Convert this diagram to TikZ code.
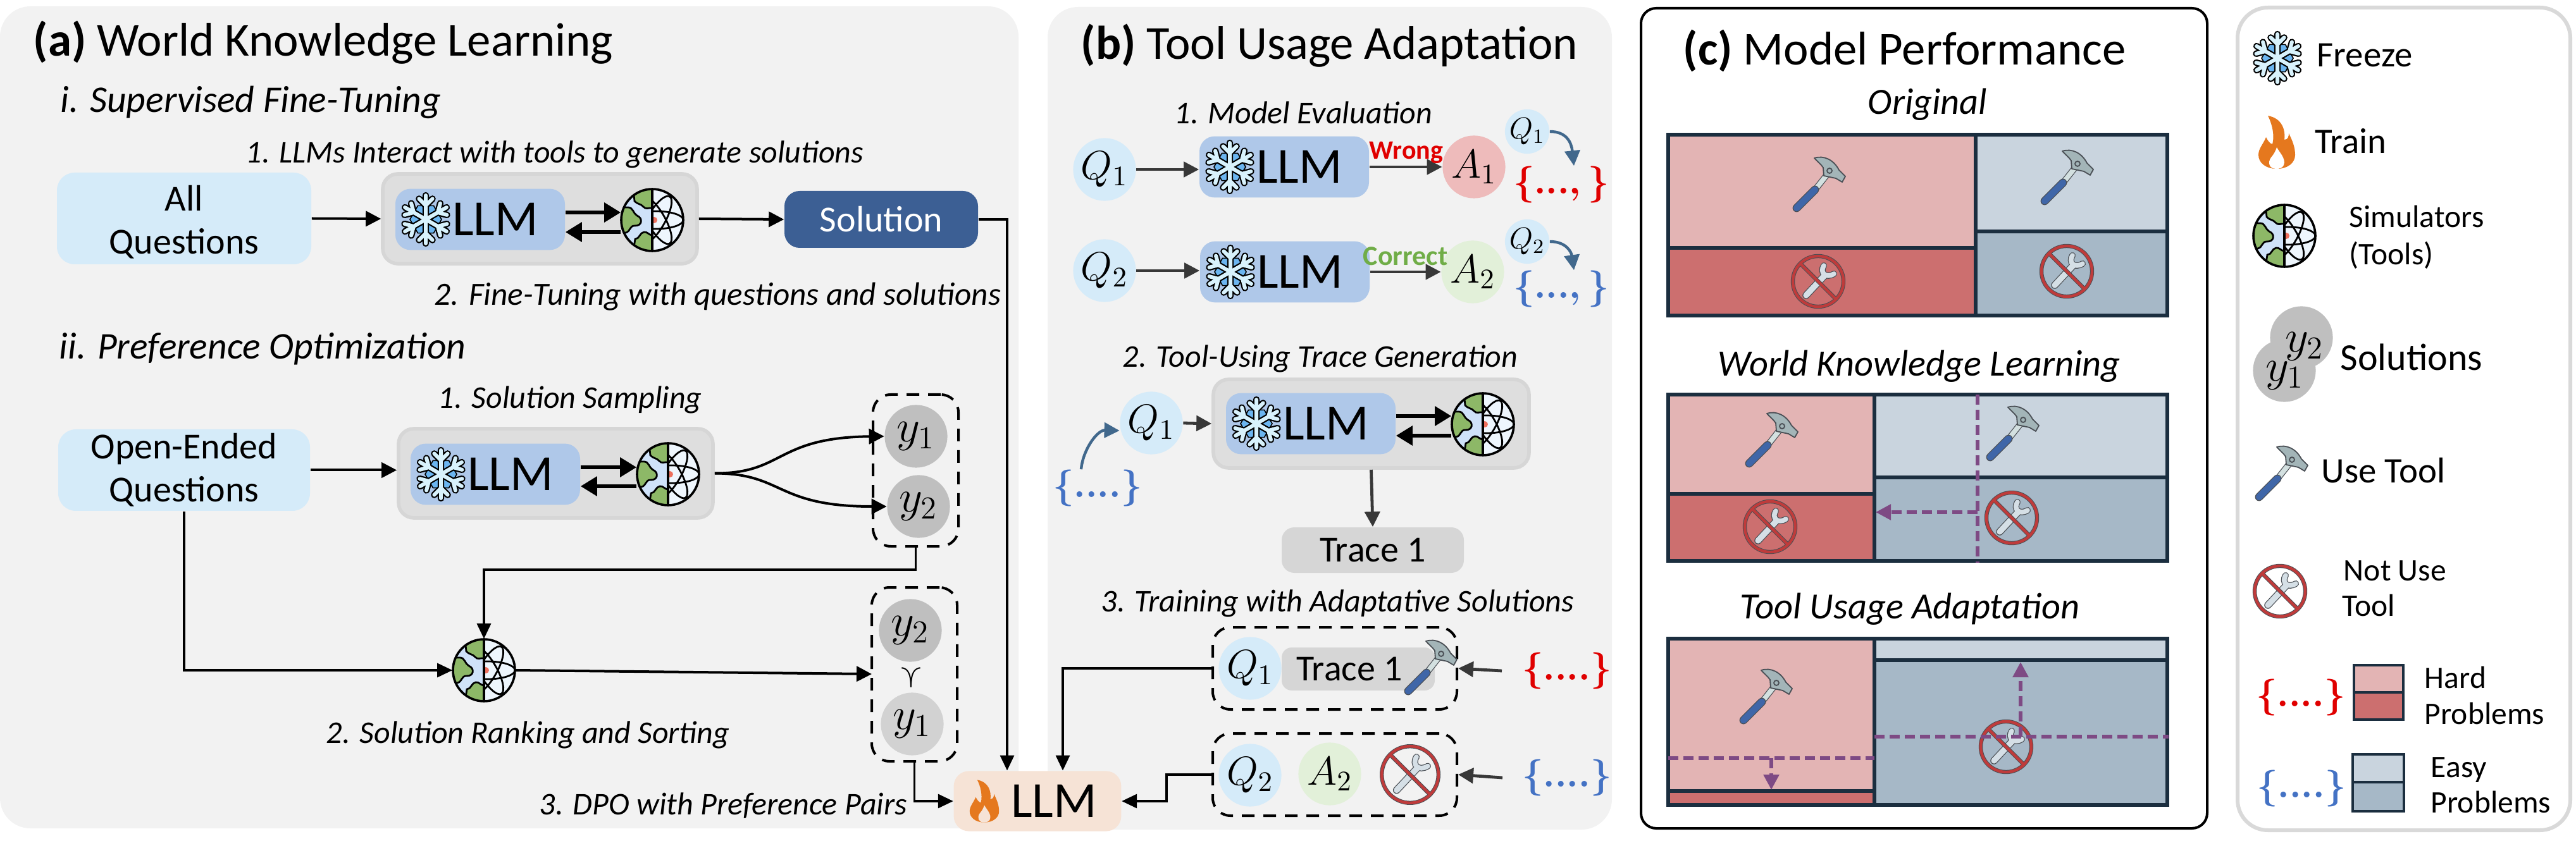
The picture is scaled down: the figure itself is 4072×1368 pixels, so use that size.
\documentclass[tikz,border=0pt]{standalone}
\usepackage{fix-cm}
\usepackage{fontspec}
\setmainfont{Carlito}
\usetikzlibrary{arrows.meta,positioning,fit,calc}

\definecolor{panelgray}{HTML}{F2F2F2}
\definecolor{questionblue}{HTML}{D5EBF9}
\definecolor{llmblue}{HTML}{AFC8E9}
\definecolor{toolgray}{HTML}{DEDEDE}
\definecolor{toolrim}{HTML}{D6D6D6}
\definecolor{solnavy}{HTML}{3C5F94}
\definecolor{soldark}{HTML}{BFBFBF}
\definecolor{sollight}{HTML}{D2D2D2}
\definecolor{trainpeach}{HTML}{F6E3D6}
\definecolor{flameorange}{HTML}{E5781E}
\definecolor{wrongred}{HTML}{E00000}
\definecolor{wrongfill}{HTML}{EEBBBB}
\definecolor{rightgreen}{HTML}{70AD47}
\definecolor{rightfill}{HTML}{E2F0D9}
\definecolor{easyblue}{HTML}{4472C4}
\definecolor{curveblue}{HTML}{41688C}
\definecolor{hardtop}{HTML}{E3B4B4}
\definecolor{hardlow}{HTML}{CC6F6F}
\definecolor{easytop}{HTML}{C9D4DE}
\definecolor{easylow}{HTML}{A6B8C7}
\definecolor{gridink}{HTML}{1B2E3F}
\definecolor{shiftpurple}{HTML}{7E4A84}
\definecolor{legendrim}{HTML}{D9D9D9}
\definecolor{gripblue}{HTML}{3F66A8}
\definecolor{shaftpale}{HTML}{D3E0E0}
\definecolor{headgray}{HTML}{A3B5B8}
\definecolor{inkgray}{HTML}{4A4F55}
\definecolor{ringred}{HTML}{BF3B3B}
\definecolor{wrenchpale}{HTML}{D5DFE6}
\definecolor{flakepale}{HTML}{D8F2FC}
\definecolor{flakeblue}{HTML}{6BB5F0}
\definecolor{globegreen}{HTML}{8DB867}
\definecolor{globesea}{HTML}{CFE2F9}
\definecolor{globelight}{HTML}{EEF6FD}

\tikzset{
  flake/.pic={
    \draw[fill=flakeblue, draw=black, line width=.4pt]
      (0:25) -- (60:25) -- (120:25) -- (180:25) -- (240:25) -- (300:25) -- cycle;
    \foreach \ang in {30,90,...,330} {
      \draw[black, line width=2.6pt, line cap=round] (0,0) -- (\ang:38)
        (\ang:22) -- +(\ang+45:15) (\ang:22) -- +(\ang-45:15);
    }
    \foreach \ang in {30,90,...,330} {
      \draw[flakepale, line width=1.5pt, line cap=round] (0,0) -- (\ang:38)
        (\ang:22) -- +(\ang+45:15) (\ang:22) -- +(\ang-45:15);
    }
  },
  globe/.pic={
    \begin{scope}
      \clip (0,0) circle (49);
      \fill[globesea] (-49,-49) rectangle (0,49);
      \fill[globelight] (0,-49) rectangle (49,49);
      \draw[fill=globegreen, line width=.7pt]
        (-30,-50) -- (-28,-30) .. controls (-22,-24) and (-18,-26) .. (-14,-21)
        .. controls (-10,-16) and (-5,-20) .. (0,-19) -- (0,-50) -- cycle;
      \draw[fill=globegreen, line width=.7pt]
        (-50,-20) -- (-38,-20) .. controls (-30,-20) and (-30,-10) .. (-24,-7)
        .. controls (-14,-3) and (-16,10) .. (-28,9)
        .. controls (-36,9) and (-34,18) .. (-42,20) -- (-50,20) -- cycle;
      \draw[fill=globegreen, line width=.7pt]
        (-30,50) -- (-27,30) .. controls (-20,30) and (-20,20) .. (-13,19)
        .. controls (-8,18) and (-5,24) .. (0,24) -- (0,50) -- cycle;
      \clip (0,-50) rectangle (50,50);
      \foreach \ang in {0,60,120} {
        \draw[line width=.7pt, rotate around={\ang:(6,0)}] (6,0) ellipse (43 and 14);
      }
      \fill[red!60!brown!70] (3,0) circle (5);
    \end{scope}
    \draw[line width=.9pt] (0,0) circle (49) (0,-49) -- (0,49);
  },
  hammer/.pic={
    \draw[inkgray, line width=2.5pt] (-5,8) -- (14,-16);
    \draw[shaftpale, line width=1.9pt] (-5,8) -- (14,-16);
    \draw[inkgray, line width=3.2pt, line cap=round] (-35,38) -- (-6,9);
    \draw[gripblue, line width=2.6pt, line cap=round] (-35,38) -- (-6,9);
    \draw[fill=headgray, draw=inkgray, line width=.45pt, line join=round]
      (-7,-41) .. controls (8,-46) and (24,-38) .. (32,-22) -- (42,-12) -- (37,-3)
      -- (27,-9) -- (8,-13) -- (7,-26) .. controls (3,-32) and (-3,-36) .. cycle;
    \draw[draw=inkgray, line width=.45pt] (17,-21) circle (4);
  },
  nowrench/.pic={
    \draw[inkgray, line width=2.9pt, line cap=round] (-19,22) -- (10,-9);
    \draw[inkgray, line width=2.5pt, line cap=round]
      (9,-25) .. controls (2,-14) and (12,-4) .. (25,-12);
    \draw[wrenchpale, line width=2.3pt, line cap=round] (-19,22) -- (10,-9);
    \draw[wrenchpale, line width=1.9pt, line cap=round]
      (9,-25) .. controls (2,-14) and (12,-4) .. (25,-12);
    \draw[inkgray, line width=1.6pt] (0,0) circle (40) (-28,-28) -- (28,28);
    \draw[ringred, line width=1.1pt] (0,0) circle (40) (-28,-28) -- (28,28);
  },
  flame/.pic={
    \fill[flameorange] (0,42) .. controls (-18,42) and (-29,32) .. (-29,20)
      .. controls (-29,10) and (-22,4) .. (-17,-8) .. controls (-14,-2) and (-11,2) .. (-7,3)
      .. controls (-3,-12) and (-8,-30) .. (-14,-42) .. controls (8,-38) and (14,-20) .. (12,-4)
      .. controls (18,-4) and (19,-10) .. (19,-14) .. controls (25,-2) and (29,8) .. (29,20)
      .. controls (29,32) and (18,42) .. (0,42) -- cycle;
    \fill[#1] (-1,42) .. controls (-12,42) and (-15,32) .. (-9,24)
      .. controls (-4,18) and (-2,14) .. (0,8) .. controls (4,16) and (15,26) .. (11,36)
      .. controls (9,41) and (4,42) .. (-1,42) -- cycle;
  }
}

\newcommand{\frozenllm}[3]{
  \node[llmbox] (#1) at (#2,#3) {\hspace{12pt}LLM};
  \pic at ($(#1.center)+(-86,0)$) {flake};
}
\newcommand{\simulator}[3]{
  \node[simdot] (#1) at (#2,#3) {};
  \pic at (#1) {globe};
}
\newcommand{\perfgrid}[5]{
  \fill[hardtop] (2637,#1) rectangle (#3,#4);
  \fill[hardlow] (2637,#4) rectangle (#3,#2);
  \fill[easytop] (#3,#1) rectangle (3426,#5);
  \fill[easylow] (#3,#5) rectangle (3426,#2);
  \draw[gridline] (2637,#1) rectangle (3426,#2) (#3,#1) -- (#3,#2)
    (2637,#4) -- (#3,#4) (#3,#5) -- (3426,#5);
}
\newcommand{\legswatch}[7]{
  \fill[#6] (#1,#3) rectangle (#2,#4);
  \fill[#7] (#1,#4) rectangle (#2,#5);
  \draw[gridline, line width=1pt] (#1,#3) rectangle (#2,#5) (#1,#4) -- (#2,#4);
}
\newcommand{\fourdots}{$\{....\}$}
\newcommand{\opendots}{$\{...,\}$}

\begin{document}
\begin{tikzpicture}[
  x=0.25pt, y=-0.25pt,
  panel/.style={rounded corners=12pt, fill=panelgray, inner sep=0pt},
  hdr/.style={font=\fontsize{18.7}{18.7}\selectfont, anchor=base west, inner sep=0pt},
  sub/.style={font=\fontsize{14.9}{14.9}\selectfont\itshape, anchor=base west, inner sep=0pt},
  chart/.style={font=\fontsize{14.6}{14.6}\selectfont\itshape, anchor=base west, inner sep=0pt},
  stp/.style={font=\fontsize{12.5}{12.5}\selectfont\itshape, anchor=base west, inner sep=0pt},
  leg/.style={font=\fontsize{14.2}{14.2}\selectfont, inner sep=0pt, anchor=base west},
  legsmall/.style={font=\fontsize{12.4}{12.4}\selectfont, inner sep=0pt, anchor=base west},
  qbox/.style={rounded corners=7pt, fill=questionblue, inner sep=0pt},
  qtext/.style={font=\fontsize{14.5}{17}\selectfont, align=center, inner sep=0pt},
  toolbox/.style={rounded corners=6pt, fill=toolgray, draw=toolrim, line width=1.4pt, inner sep=0pt},
  llmbox/.style={rounded corners=6pt, fill=llmblue, minimum width=67pt, minimum height=24.2pt,
                 inner sep=0pt, font=\fontsize{20}{20}\selectfont},
  simdot/.style={circle, minimum size=24.5pt, inner sep=0pt},
  bub/.style={circle, minimum size=24.8pt, inner sep=0pt, font=\fontsize{16}{16}\selectfont},
  qbub/.style={bub, fill=questionblue},
  smallq/.style={circle, minimum size=17.5pt, inner sep=0pt, fill=questionblue,
                 font=\fontsize{12}{12}\selectfont},
  soldot/.style={bub, fill=soldark, font=\fontsize{18}{18}\selectfont},
  tracebox/.style={rounded corners=4pt, fill=toolrim, inner sep=0pt, font=\fontsize{14.5}{14.5}\selectfont},
  dbox/.style={draw=black, line width=1pt, dash pattern=on 5pt off 3.5pt, rounded corners=7pt, inner sep=0pt},
  bracehard/.style={text=wrongred, inner sep=0pt, font=\fontsize{14.5}{14.5}\selectfont\boldmath},
  braceeasy/.style={text=easyblue, inner sep=0pt, font=\fontsize{14.5}{14.5}\selectfont\boldmath},
  arr/.style={-{Triangle[length=6pt, width=6pt]}, line width=1pt, draw=black},
  thin arr/.style={-{Triangle[length=6pt, width=5.5pt]}, line width=.8pt, draw=black},
  thick arr/.style={-{Triangle[length=6.5pt, width=7.5pt]}, line width=1.5pt, draw=black},
  gray arr/.style={-{Triangle[length=6pt, width=6pt]}, line width=1.2pt, draw=black!78},
  blue arr/.style={-{Triangle[length=6pt, width=6pt]}, line width=1.1pt, draw=curveblue},
  gridline/.style={draw=gridink, line width=1.5pt},
  purpledash/.style={draw=shiftpurple, line width=1.4pt, dash pattern=on 4pt off 2pt},
  purple arr/.style={purpledash, -{Triangle[length=6pt, width=6pt, fill=shiftpurple]}}
]
\useasboundingbox (0,0) rectangle (4072,1368);

% ---------------- panels ----------------
\node[panel, fit={(0,10)(1610,1310)}] (panelA) {};
\node[panel, fit={(1656,11)(2548,1312)}] (panelB) {};
\node[draw=black, line width=1pt, rounded corners=6pt, inner sep=0pt, fit={(2594,13)(3489,1310)}] (panelC) {};
\node[draw=legendrim, line width=1.5pt, rounded corners=12pt, inner sep=0pt, fit={(3537,12)(4063,1313)}] (panelL) {};

% ---------------- (a) world knowledge ----------------
\node[hdr] (titleA) at (52,89) {\textbf{(a)} World Knowledge Learning};
\node[sub] (subOne) at (95,178) {i. Supervised Fine-Tuning};
\node[stp] (stepOne) at (388,258) {1. LLMs Interact with tools to generate solutions};

\node[qbox, fit={(90,273)(492,418)}] (allq) {};
\node[qtext] (allqText) at ([yshift=-1.5pt]allq) {All\\Questions};
\node[toolbox, fit={(605,275)(1102,417)}] (grpA) {};
\frozenllm{llmA}{759}{347}
\simulator{simA}{1031}{348}
\draw[thick arr] ([yshift=2.75pt]llmA.east) -- ([yshift=2.75pt]llmA.east -| simA.west);
\draw[thick arr] ([yshift=-4.75pt]simA.west) -- ([yshift=-4.75pt]simA.west -| llmA.east);
\node[fill=solnavy, rounded corners=6pt, minimum width=76.5pt, minimum height=22.5pt, inner sep=0pt,
      text=white, font=\fontsize{14.5}{14.5}\selectfont] (soln) at (1393,347) {Solution};
\draw[arr] (allq.east) -- (grpA.west);
\draw[arr] (grpA.east) -- (soln.west);
\node[stp, font=\fontsize{12.8}{12.8}\selectfont\itshape] (stepTwo) at (686,483) {2. Fine-Tuning with questions and solutions};

\node[sub] (subTwo) at (93,568) {ii. Preference Optimization};
\node[stp] (stepSample) at (692,646) {1. Solution Sampling};
\node[qbox, fit={(92,679)(490,808)}] (openq) {};
\node[qtext] (openqText) at (openq) {Open-Ended\\Questions};
\node[toolbox, fit={(630,678)(1127,819)}] (grpB) {};
\frozenllm{llmB}{783}{750}
\simulator{simB}{1056}{750}
\draw[thick arr] ([yshift=2.75pt]llmB.east) -- ([yshift=2.75pt]llmB.east -| simB.west);
\draw[thick arr] ([yshift=-4.75pt]simB.west) -- ([yshift=-4.75pt]simB.west -| llmB.east);
\draw[arr] (openq.east) -- (openq.east -| grpB.west);

\node[soldot] (yOne) at (1448,690) {$y_1$};
\node[soldot] (yTwo) at (1452,801) {$y_2$};
\node[dbox, fit={(1380,624)(1515,864)}] (pairA) {};
\draw[arr] (grpB.east) .. controls (1240,749) and (1225,692) .. (yOne.west);
\draw[arr] (grpB.east) .. controls (1240,749) and (1225,801) .. (yTwo.west);

\simulator{simC}{765}{1060}
\draw[thin arr] (pairA.south) |- (1100,901) -| (simC.north);
\draw[thin arr] (openq.south) |- (simC.west);

\node[soldot] (yTop) at (1439,997) {$y_2$};
\node[soldot, fill=sollight] (yLow) at (1442,1145) {$y_1$};
\node[rotate=-90, inner sep=0pt, font=\fontsize{13}{13}\selectfont] (prefOp) at (1440,1072) {$\succ$};
\node[dbox, fit={(1378,929)(1513,1204)}] (pairB) {};
\draw[arr] (simC.east) -- (1378,1066);
\node[stp] (stepRank) at (515,1175) {2. Solution Ranking and Sorting};
\node[stp] (stepDpo) at (852,1288) {3. DPO with Preference Pairs};

\node[fill=trainpeach, rounded corners=6pt, minimum width=66.2pt, minimum height=23.8pt, inner sep=0pt,
      font=\fontsize{20}{20}\selectfont] (llmT) at (1640,1267) {\hspace{13pt}LLM};
\pic[scale=.8] at ($(llmT.center)+(-84,0)$) {flame=trainpeach};

\draw[thin arr] (soln.east) -| (llmT.north -| 1592,0);
\draw[thin arr] (pairB.south) |- (llmT.west);

% ---------------- (b) tool usage ----------------
\node[hdr] (titleB) at (1708,94) {\textbf{(b)} Tool Usage Adaptation};
\node[stp] (stepEval) at (1856,196) {1. Model Evaluation};

\node[qbub] (qOne) at (1746,268) {$Q_1$};
\frozenllm{llmC}{2030}{264}
\node[bub, fill=wrongfill] (aOne) at (2330,264) {$A_1$};
\node[smallq] (qOneS) at (2414,208) {$Q_1$};
\node[bracehard] (setOne) at (2468,292) {\opendots};
\draw[gray arr] (qOne.east) -- (qOne.east -| llmC.west);
\draw[gray arr] (llmC.east) -- (aOne.west);
\node[anchor=base west, inner sep=0pt, text=wrongred, font=\fontsize{10.5}{10.5}\selectfont\bfseries] (lblWrong) at (2164,252) {Wrong};
\draw[blue arr] (qOneS.east) .. controls (2476,208) and (2484,225) .. ([xshift=5pt]setOne.north);

\node[qbub] (qTwo) at (1746,428) {$Q_2$};
\frozenllm{llmD}{2031}{430}
\node[bub, fill=rightfill] (aTwo) at (2328,430) {$A_2$};
\node[smallq] (qTwoS) at (2414,382) {$Q_2$};
\node[braceeasy] (setTwo) at (2468,457) {\opendots};
\draw[gray arr] (qTwo.east) -- (qTwo.east -| llmD.west);
\draw[gray arr] (llmD.east) -- (aTwo.west);
\node[anchor=base west, inner sep=0pt, text=rightgreen, font=\fontsize{11}{11}\selectfont\bfseries] (lblRight) at (2154,420) {Correct};
\draw[blue arr] (qTwoS.east) .. controls (2476,382) and (2484,399) .. ([xshift=5pt]setTwo.north);

\node[stp] (stepTrace) at (1774,581) {2. Tool-Using Trace Generation};
\node[toolbox, fit={(1918,600)(2417,740)}] (grpC) {};
\frozenllm{llmE}{2072}{670}
\simulator{simD}{2344}{671}
\draw[thick arr] ([yshift=3pt]llmE.east) -- ([yshift=3pt]llmE.east -| simD.west);
\draw[thick arr] ([yshift=-4.5pt]simD.west) -- ([yshift=-4.5pt]simD.west -| llmE.east);
\node[qbub] (qThree) at (1820,669) {$Q_1$};
\node[braceeasy] (setThree) at (1735,772) {\fourdots};
\draw[gray arr] (qThree.east) -- (grpC.west);
\draw[blue arr] ([xshift=-6.5pt]setThree.north) .. controls (1712,710) and (1735,680) .. ([yshift=-3pt]qThree.west);
\node[fill=toolrim, rounded corners=5pt, minimum width=72pt, minimum height=18pt, inner sep=0pt,
      font=\fontsize{14.5}{14.5}\selectfont] (traceA) at (2170,870) {Trace 1};
\draw[gray arr] (grpC.south) -- (traceA.north);

\node[stp] (stepTrain) at (1740,967) {3. Training with Adaptative Solutions};
\node[dbox, fit={(1917,992)(2303,1122)}] (pairC) {};
\node[qbub] (qFour) at (1976,1057) {$Q_1$};
\node[tracebox, minimum width=60.5pt, minimum height=17pt] (traceB) at (2147,1058) {\hspace{-7pt}Trace 1};
\pic at (2261,1055) {hammer};
\node[bracehard] (setFour) at (2477,1061) {\fourdots};
\draw[gray arr] (setFour.west -| 2374,0) -- (pairC.east);
\draw[thin arr] (pairC.west) -| (llmT.north -| 1680,0);

\node[dbox, fit={(1917,1160)(2303,1290)}] (pairD) {};
\node[qbub] (qFive) at (1976,1226) {$Q_2$};
\node[bub, fill=rightfill] (aFive) at (2102,1224) {$A_2$};
\pic[scale=1.12] at (2229,1225) {nowrench};
\node[braceeasy] (setFive) at (2477,1230) {\fourdots};
\draw[gray arr] (setFive.west -| 2375,0) -- (pairD.east);
\draw[thin arr] (pairD.west) -- (1844,1225) |- (llmT.east);

% ---------------- (c) performance ----------------
\node[hdr] (titleC) at (2660,103) {\textbf{(c)} Model Performance};
\node[chart] (chartOrig) at (2952,181) {Original};
\perfgrid{213}{499}{3123}{392}{366}
\pic at (2875,291) {hammer};
\pic at (2874,445) {nowrench};
\pic at (3267,280) {hammer};
\pic at (3267,429) {nowrench};

\node[chart] (chartWorld) at (2715,595) {World Knowledge Learning};
\perfgrid{624}{887}{2963}{781}{755}
\pic at (2800,695) {hammer};
\pic at (2798,833) {nowrench};
\pic at (3181,685) {hammer};
\pic at (3180,819) {nowrench};
\draw[purpledash] (3126,624) -- (3126,890);
\draw[purple arr] (3126,810) -- (2965,810);

\node[chart] (chartTool) at (2750,978) {Tool Usage Adaptation};
\perfgrid{1010}{1273}{2963}{1251}{1044}
\pic at (2791,1101) {hammer};
\pic at (3171,1181) {nowrench};
\draw[purpledash] (2637,1199) -- (2963,1199);
\draw[purple arr] (2800,1199) -- (2800,1249);
\draw[purpledash] (2963,1165) -- (3428,1165);
\draw[purple arr] (3194,1165) -- (3194,1047);

% ---------------- legend ----------------
\pic at (3600,92) {flake};
\node[leg] (legFreeze) at (3662,106) {Freeze};
\pic at (3599,225) {flame=white};
\node[leg] (legTrain) at (3659,243) {Train};
\simulator{simL}{3611}{373}
\node[legsmall] (legSimA) at (3713,360) {Simulators};
\node[legsmall] (legSimB) at (3713,419) {(Tools)};
\node[soldot] (legYTwo) at (3638,534) {};
\node[soldot] (legYOne) at (3611,586) {};
\node[inner sep=0pt, font=\fontsize{18}{18}\selectfont] (legYTwoText) at (3643,548) {$y_2$};
\node[inner sep=0pt, font=\fontsize{18}{18}\selectfont] (legYOneText) at (3612,594) {$y_1$};
\node[leg, font=\fontsize{15}{15}\selectfont] (legSol) at (3699,586) {Solutions};
\pic at (3606,748) {hammer};
\node[leg] (legUse) at (3669,764) {Use Tool};
\pic at (3604,935) {nowrench};
\node[legsmall] (legNotA) at (3704,918) {Not Use};
\node[legsmall] (legNotB) at (3702,975) {Tool};
\node[bracehard] (legHard) at (3637,1103) {\fourdots};
\legswatch{3721}{3799}{1052}{1095}{1138}{hardtop}{hardlow}
\node[legsmall] (legHardA) at (3832,1088) {Hard};
\node[legsmall] (legHardB) at (3832,1145) {Problems};
\node[braceeasy] (legEasy) at (3638,1247) {\fourdots};
\legswatch{3719}{3800}{1193}{1237}{1283}{easytop}{easylow}
\node[legsmall] (legEasyA) at (3842,1229) {Easy};
\node[legsmall] (legEasyB) at (3842,1285) {Problems};
\end{tikzpicture}
\end{document}
